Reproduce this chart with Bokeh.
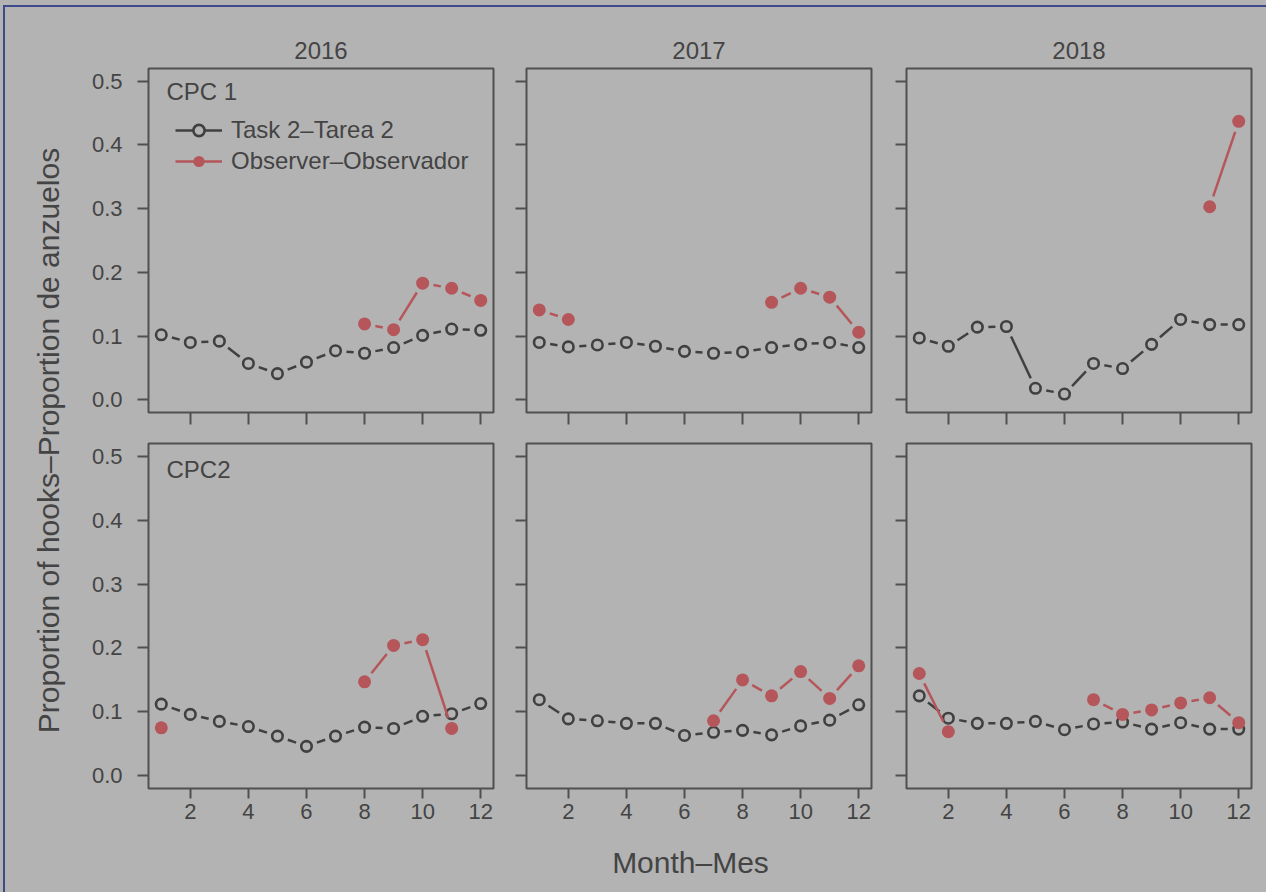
import math
import numpy as np
from bokeh.plotting import figure
from bokeh.models import Range1d, FixedTicker, Label, Legend, LegendItem, PrintfTickFormatter
from bokeh.layouts import row, column
from bokeh.embed import file_html
from bokeh.resources import INLINE

NaN = float("nan")

# ---------------- data ----------------
months = list(range(1, 13))
years = ["2016", "2017", "2018"]
panel_labels = ["CPC 1", "CPC2"]
x_ticks = [2, 4, 6, 8, 10, 12]
y_ticks = [0.0, 0.1, 0.2, 0.3, 0.4, 0.5]
series_names = ["Task 2\u2013Tarea 2", "Observer\u2013Observador"]
x_title = "Month\u2013Mes"
y_title = "Proportion of hooks\u2013Proportion de anzuelos"

task_cpc1_2016 = [0.102, 0.090, 0.092, 0.057, 0.041, 0.059, 0.077, 0.073, 0.082, 0.101, 0.111, 0.109]
obs_cpc1_2016 = [NaN, NaN, NaN, NaN, NaN, NaN, NaN, 0.119, 0.110, 0.183, 0.175, 0.156]
task_cpc1_2017 = [0.090, 0.083, 0.086, 0.090, 0.084, 0.076, 0.073, 0.075, 0.082, 0.087, 0.090, 0.082]
obs_cpc1_2017 = [0.141, 0.126, NaN, NaN, NaN, NaN, NaN, NaN, 0.153, 0.175, 0.161, 0.106]
task_cpc1_2018 = [0.097, 0.084, 0.114, 0.115, 0.018, 0.009, 0.057, 0.049, 0.087, 0.126, 0.118, 0.118]
obs_cpc1_2018 = [NaN, NaN, NaN, NaN, NaN, NaN, NaN, NaN, NaN, NaN, 0.303, 0.437]

task_cpc2_2016 = [0.112, 0.096, 0.085, 0.077, 0.062, 0.046, 0.062, 0.076, 0.074, 0.093, 0.097, 0.113]
obs_cpc2_2016 = [0.075, NaN, NaN, NaN, NaN, NaN, NaN, 0.147, 0.204, 0.213, 0.074, NaN]
task_cpc2_2017 = [0.119, 0.089, 0.086, 0.082, 0.082, 0.063, 0.068, 0.071, 0.064, 0.078, 0.087, 0.111]
obs_cpc2_2017 = [NaN, NaN, NaN, NaN, NaN, NaN, 0.086, 0.150, 0.125, 0.163, 0.121, 0.172]
task_cpc2_2018 = [0.125, 0.090, 0.082, 0.082, 0.085, 0.072, 0.081, 0.084, 0.073, 0.083, 0.073, 0.073]
obs_cpc2_2018 = [0.160, 0.069, NaN, NaN, NaN, NaN, 0.119, 0.096, 0.103, 0.114, 0.122, 0.083]

TASK = [[task_cpc1_2016, task_cpc1_2017, task_cpc1_2018],
        [task_cpc2_2016, task_cpc2_2017, task_cpc2_2018]]
OBS = [[obs_cpc1_2016, obs_cpc1_2017, obs_cpc1_2018],
       [obs_cpc2_2016, obs_cpc2_2017, obs_cpc2_2018]]

# ---------------- style / layout ----------------
BG = "#b3b3b3"
NAVY = "#3c4a8a"
DARK = "#404040"
RED = "#b5565b"
TXT = "#444444"
BOX = "#505050"
FONT = "Liberation Sans"

PAGE_W = 1266
X0, X1 = 0.56, 12.44
Y0, Y1 = -0.02, 0.52
FRAME_W = 345
FRAME_H = [344, 345]
YLAB_W = 78
LR = [(70, 16), (17, 16), (19, 15)]
TB = [(2, 16), (15, 50)]
TOP_H = 66
XLAB_H = 54
GAP = 11
OPEN_SIZE, OPEN_LW = 10.5, 2.6
DOT_SIZE = 13
LINE_W = 2.5


def gapped_segments(xs, ys, sx, sy, gap):
    x0s, y0s, x1s, y1s = [], [], [], []
    for i in range(len(xs) - 1):
        a, b = ys[i], ys[i + 1]
        if math.isnan(a) or math.isnan(b):
            continue
        px0, py0 = xs[i] * sx, a * sy
        px1, py1 = xs[i + 1] * sx, b * sy
        dx, dy = px1 - px0, py1 - py0
        L = math.hypot(dx, dy)
        if L <= 2 * gap:
            continue
        ux, uy = dx / L, dy / L
        x0s.append((px0 + gap * ux) / sx)
        y0s.append((py0 + gap * uy) / sy)
        x1s.append((px1 - gap * ux) / sx)
        y1s.append((py1 - gap * uy) / sy)
    return x0s, y0s, x1s, y1s


def hide_labels(ax):
    ax.major_label_text_font_size = "1px"
    ax.major_label_text_color = None
    ax.major_label_standoff = 0


def strip(w, h):
    f = figure(width=w, height=h, x_range=Range1d(0, w), y_range=Range1d(0, h),
               min_border=0, output_backend="svg", toolbar_location=None,
               x_axis_location=None, y_axis_location=None,
               background_fill_alpha=0, border_fill_alpha=0, outline_line_color=None)
    f.xgrid.grid_line_color = None
    f.ygrid.grid_line_color = None
    return f


def make_panel(r, c):
    fh = FRAME_H[r]
    lb, rb = LR[c]
    tb, bb = TB[r]
    p = figure(width=lb + FRAME_W + rb, height=tb + fh + bb,
               x_range=Range1d(X0, X1), y_range=Range1d(Y0, Y1),
               min_border_left=lb, min_border_right=rb,
               min_border_top=tb, min_border_bottom=bb,
               output_backend="svg", toolbar_location=None,
               background_fill_color=BG, border_fill_color=BG,
               outline_line_color=BOX, outline_line_width=2)
    p.xgrid.grid_line_color = None
    p.ygrid.grid_line_color = None

    sx = FRAME_W / (X1 - X0)
    sy = fh / (Y1 - Y0)

    xa = p.xaxis[0]
    xa.ticker = FixedTicker(ticks=x_ticks)
    xa.axis_line_color = None
    xa.major_tick_line_color = BOX
    xa.major_tick_line_width = 2
    xa.major_tick_in = 0
    xa.major_tick_out = 12 if r == 0 else 10
    xa.minor_tick_line_color = None
    if r == 1:
        xa.major_label_text_font = FONT
        xa.major_label_text_font_size = "22px"
        xa.major_label_text_color = TXT
        xa.major_label_standoff = 5
    else:
        hide_labels(xa)

    ya = p.yaxis[0]
    ya.ticker = FixedTicker(ticks=y_ticks)
    ya.formatter = PrintfTickFormatter(format="%.1f")
    ya.axis_line_color = None
    ya.major_tick_line_color = BOX
    ya.major_tick_line_width = 2
    ya.major_tick_in = 0
    ya.major_tick_out = 11
    ya.minor_tick_line_color = None
    if c == 0:
        ya.major_label_text_font = FONT
        ya.major_label_text_font_size = "22px"
        ya.major_label_text_color = TXT
        ya.major_label_standoff = 15
    else:
        hide_labels(ya)

    task = np.array(TASK[r][c], dtype=float)
    obs = np.array(OBS[r][c], dtype=float)

    s = gapped_segments(months, list(task), sx, sy, GAP)
    seg_t = p.segment(x0=s[0], y0=s[1], x1=s[2], y1=s[3], line_color=DARK, line_width=LINE_W)
    pts_t = p.scatter(x=months, y=task, marker="circle", size=OPEN_SIZE, fill_color=None,
                      line_color=DARK, line_width=OPEN_LW)
    s = gapped_segments(months, list(obs), sx, sy, GAP)
    seg_o = p.segment(x0=s[0], y0=s[1], x1=s[2], y1=s[3], line_color=RED, line_width=LINE_W)
    pts_o = p.scatter(x=months, y=obs, marker="circle", size=DOT_SIZE, fill_color=RED, line_color=None)

    if c == 0:
        p.add_layout(Label(x=1.18, y=0.484 if r == 0 else 0.479, text=panel_labels[r],
                           text_font=FONT, text_font_size="24px", text_color=TXT,
                           text_baseline="middle", text_align="left"))
    if r == 0 and c == 0:
        # gap disc shown only in the legend (no data drawn in the plot)
        gap_disc = p.scatter(x=[NaN], y=[NaN], marker="circle", size=20, fill_color=BG, line_color=None)
        legend = Legend(items=[LegendItem(label=series_names[0], renderers=[seg_t, gap_disc, pts_t]),
                               LegendItem(label=series_names[1], renderers=[seg_o, pts_o])],
                        location=(27, 237), padding=0, margin=0, spacing=3,
                        glyph_width=47, glyph_height=28, label_height=28, label_standoff=9,
                        label_text_font=FONT, label_text_font_size="24px",
                        label_text_color=TXT, background_fill_alpha=0,
                        border_line_color=None)
        p.add_layout(legend)
    return p


panels = [[make_panel(r, c) for c in range(3)] for r in range(2)]

# column titles (years) in a strip above the panels
top = strip(PAGE_W, TOP_H)
left = YLAB_W
for c in range(3):
    lb, rb = LR[c]
    centre = left + lb + FRAME_W / 2
    top.add_layout(Label(x=centre, y=16, text=years[c], text_align="center",
                         text_baseline="middle", text_font=FONT, text_font_size="24px",
                         text_color=TXT))
    left += lb + FRAME_W + rb

rows_h = sum(TB[r][0] + FRAME_H[r] + TB[r][1] for r in range(2))
ylab = strip(YLAB_W, rows_h)
ylab.add_layout(Label(x=48, y=398, text=y_title, angle=math.pi / 2,
                      text_align="center", text_baseline="middle",
                      text_font=FONT, text_font_size="30px", text_color=TXT))

xlab = strip(PAGE_W, XLAB_H)
xlab.add_layout(Label(x=690, y=30, text=x_title, text_align="center", text_baseline="middle",
                      text_font=FONT, text_font_size="30px", text_color=TXT))

grid = column(row(*panels[0]), row(*panels[1]))
page_bg = (f"linear-gradient({NAVY},{NAVY}) 3px 5px / 100% 2px no-repeat, "
           f"linear-gradient({NAVY},{NAVY}) 3px 5px / 2px 100% no-repeat, {BG}")
layout = column(top, row(ylab, grid), xlab, styles={"background": page_bg})

open("out.html", "w").write(file_html(layout, INLINE))
